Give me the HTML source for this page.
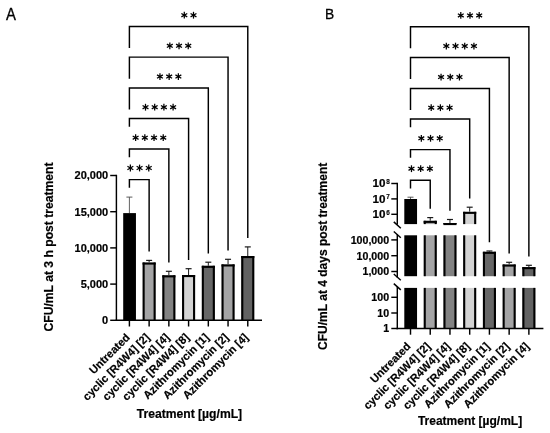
<!DOCTYPE html>
<html><head><meta charset="utf-8"><style>html,body{margin:0;padding:0;background:#fff;}svg{display:block;will-change:transform;}</style></head>
<body><svg width="550" height="433" viewBox="0 0 550 433">
<rect width="550" height="433" fill="#fff"/>
<g transform="translate(6.00,19.60) scale(0.00955,0.01)"><text text-anchor="start" font-family="Liberation Sans, sans-serif" stroke="#000" stroke-width="30" font-size="1560">A</text></g>
<line x1="129.40" y1="197.10" x2="129.40" y2="213.10" stroke="#3a3a3a" stroke-width="0.8"/><line x1="126.40" y1="197.10" x2="132.40" y2="197.10" stroke="#4a4a4a" stroke-width="0.9"/>
<rect x="123.20" y="213.10" width="12.75" height="107.20" fill="#000"/>
<line x1="149.13" y1="260.40" x2="149.13" y2="262.50" stroke="#1a1a1a" stroke-width="1.0"/><line x1="146.13" y1="260.40" x2="152.13" y2="260.40" stroke="#1a1a1a" stroke-width="1.2"/>
<rect x="142.88" y="262.50" width="12.50" height="57.80" fill="#a4a4a5"/><rect x="142.58" y="262.50" width="2.1" height="57.80" fill="#000"/><rect x="153.58" y="262.50" width="2.1" height="57.80" fill="#000"/><rect x="142.58" y="262.50" width="13.10" height="2.1" fill="#000"/>
<line x1="168.86" y1="271.30" x2="168.86" y2="275.30" stroke="#1a1a1a" stroke-width="1.0"/><line x1="165.86" y1="271.30" x2="171.86" y2="271.30" stroke="#1a1a1a" stroke-width="1.2"/>
<rect x="162.61" y="275.30" width="12.50" height="45.00" fill="#828282"/><rect x="162.31" y="275.30" width="2.1" height="45.00" fill="#000"/><rect x="173.31" y="275.30" width="2.1" height="45.00" fill="#000"/><rect x="162.31" y="275.30" width="13.10" height="2.1" fill="#000"/>
<line x1="188.59" y1="268.70" x2="188.59" y2="275.00" stroke="#1a1a1a" stroke-width="1.0"/><line x1="185.59" y1="268.70" x2="191.59" y2="268.70" stroke="#1a1a1a" stroke-width="1.2"/>
<rect x="182.34" y="275.00" width="12.50" height="45.30" fill="#d3d3d3"/><rect x="182.04" y="275.00" width="2.1" height="45.30" fill="#000"/><rect x="193.04" y="275.00" width="2.1" height="45.30" fill="#000"/><rect x="182.04" y="275.00" width="13.10" height="2.1" fill="#000"/>
<line x1="208.32" y1="262.20" x2="208.32" y2="265.80" stroke="#1a1a1a" stroke-width="1.0"/><line x1="205.32" y1="262.20" x2="211.32" y2="262.20" stroke="#1a1a1a" stroke-width="1.2"/>
<rect x="202.07" y="265.80" width="12.50" height="54.50" fill="#666666"/><rect x="201.77" y="265.80" width="2.1" height="54.50" fill="#000"/><rect x="212.77" y="265.80" width="2.1" height="54.50" fill="#000"/><rect x="201.77" y="265.80" width="13.10" height="2.1" fill="#000"/>
<line x1="228.05" y1="259.30" x2="228.05" y2="264.40" stroke="#1a1a1a" stroke-width="1.0"/><line x1="225.05" y1="259.30" x2="231.05" y2="259.30" stroke="#1a1a1a" stroke-width="1.2"/>
<rect x="221.80" y="264.40" width="12.50" height="55.90" fill="#a4a4a5"/><rect x="221.50" y="264.40" width="2.1" height="55.90" fill="#000"/><rect x="232.50" y="264.40" width="2.1" height="55.90" fill="#000"/><rect x="221.50" y="264.40" width="13.10" height="2.1" fill="#000"/>
<line x1="247.78" y1="246.90" x2="247.78" y2="256.00" stroke="#1a1a1a" stroke-width="1.0"/><line x1="244.78" y1="246.90" x2="250.78" y2="246.90" stroke="#1a1a1a" stroke-width="1.2"/>
<rect x="241.53" y="256.00" width="12.50" height="64.30" fill="#626262"/><rect x="241.23" y="256.00" width="2.1" height="64.30" fill="#000"/><rect x="252.23" y="256.00" width="2.1" height="64.30" fill="#000"/><rect x="241.23" y="256.00" width="13.10" height="2.1" fill="#000"/>
<line x1="116.40" y1="174.78" x2="116.40" y2="321.03" stroke="#000" stroke-width="1.45"/>
<line x1="115.68" y1="320.30" x2="262.00" y2="320.30" stroke="#000" stroke-width="1.45"/>
<line x1="110.20" y1="320.30" x2="116.40" y2="320.30" stroke="#000" stroke-width="1.45"/>
<g transform="translate(108.20,324.20) scale(0.01000,0.01)"><text text-anchor="end" font-family="Liberation Sans, sans-serif" font-weight="bold" stroke="#000" stroke-width="20" font-size="1100">0</text></g>
<line x1="110.20" y1="284.10" x2="116.40" y2="284.10" stroke="#000" stroke-width="1.45"/>
<g transform="translate(108.20,288.00) scale(0.01000,0.01)"><text text-anchor="end" font-family="Liberation Sans, sans-serif" font-weight="bold" stroke="#000" stroke-width="20" font-size="1100">5,000</text></g>
<line x1="110.20" y1="247.90" x2="116.40" y2="247.90" stroke="#000" stroke-width="1.45"/>
<g transform="translate(108.20,251.80) scale(0.01000,0.01)"><text text-anchor="end" font-family="Liberation Sans, sans-serif" font-weight="bold" stroke="#000" stroke-width="20" font-size="1100">10,000</text></g>
<line x1="110.20" y1="211.70" x2="116.40" y2="211.70" stroke="#000" stroke-width="1.45"/>
<g transform="translate(108.20,215.60) scale(0.01000,0.01)"><text text-anchor="end" font-family="Liberation Sans, sans-serif" font-weight="bold" stroke="#000" stroke-width="20" font-size="1100">15,000</text></g>
<line x1="110.20" y1="175.50" x2="116.40" y2="175.50" stroke="#000" stroke-width="1.45"/>
<g transform="translate(108.20,179.40) scale(0.01000,0.01)"><text text-anchor="end" font-family="Liberation Sans, sans-serif" font-weight="bold" stroke="#000" stroke-width="20" font-size="1100">20,000</text></g>
<line x1="129.40" y1="320.30" x2="129.40" y2="326.50" stroke="#000" stroke-width="1.45"/>
<g transform="translate(130.60,338.10) rotate(-45) scale(0.01000,0.01)"><text text-anchor="end" font-family="Liberation Sans, sans-serif" font-weight="bold" stroke="#000" stroke-width="20" font-size="1115">Untreated</text></g>
<line x1="149.13" y1="320.30" x2="149.13" y2="326.50" stroke="#000" stroke-width="1.45"/>
<g transform="translate(150.33,338.10) rotate(-45) scale(0.01000,0.01)"><text text-anchor="end" font-family="Liberation Sans, sans-serif" font-weight="bold" stroke="#000" stroke-width="20" font-size="1115">cyclic [R4W4] [2]</text></g>
<line x1="168.86" y1="320.30" x2="168.86" y2="326.50" stroke="#000" stroke-width="1.45"/>
<g transform="translate(170.06,338.10) rotate(-45) scale(0.01000,0.01)"><text text-anchor="end" font-family="Liberation Sans, sans-serif" font-weight="bold" stroke="#000" stroke-width="20" font-size="1115">cyclic [R4W4] [4]</text></g>
<line x1="188.59" y1="320.30" x2="188.59" y2="326.50" stroke="#000" stroke-width="1.45"/>
<g transform="translate(189.79,338.10) rotate(-45) scale(0.01000,0.01)"><text text-anchor="end" font-family="Liberation Sans, sans-serif" font-weight="bold" stroke="#000" stroke-width="20" font-size="1115">cyclic [R4W4] [8]</text></g>
<line x1="208.32" y1="320.30" x2="208.32" y2="326.50" stroke="#000" stroke-width="1.45"/>
<g transform="translate(209.52,338.10) rotate(-45) scale(0.01000,0.01)"><text text-anchor="end" font-family="Liberation Sans, sans-serif" font-weight="bold" stroke="#000" stroke-width="20" font-size="1115">Azithromycin [1]</text></g>
<line x1="228.05" y1="320.30" x2="228.05" y2="326.50" stroke="#000" stroke-width="1.45"/>
<g transform="translate(229.25,338.10) rotate(-45) scale(0.01000,0.01)"><text text-anchor="end" font-family="Liberation Sans, sans-serif" font-weight="bold" stroke="#000" stroke-width="20" font-size="1115">Azithromycin [2]</text></g>
<line x1="247.78" y1="320.30" x2="247.78" y2="326.50" stroke="#000" stroke-width="1.45"/>
<g transform="translate(248.98,338.10) rotate(-45) scale(0.01000,0.01)"><text text-anchor="end" font-family="Liberation Sans, sans-serif" font-weight="bold" stroke="#000" stroke-width="20" font-size="1115">Azithromycin [4]</text></g>
<path d="M129.40 187.80 V179.60 H149.13 V251.60" fill="none" stroke="#000" stroke-width="1.45" stroke-linejoin="miter"/>
<line x1="130.37" y1="164.60" x2="130.37" y2="171.40" stroke="#000" stroke-width="1.25"/><line x1="127.42" y1="166.30" x2="133.31" y2="169.70" stroke="#000" stroke-width="1.25"/><line x1="127.42" y1="169.70" x2="133.31" y2="166.30" stroke="#000" stroke-width="1.25"/><circle cx="130.37" cy="168.00" r="1.15" fill="#000"/><line x1="139.56" y1="164.60" x2="139.56" y2="171.40" stroke="#000" stroke-width="1.25"/><line x1="136.62" y1="166.30" x2="142.51" y2="169.70" stroke="#000" stroke-width="1.25"/><line x1="136.62" y1="169.70" x2="142.51" y2="166.30" stroke="#000" stroke-width="1.25"/><circle cx="139.56" cy="168.00" r="1.15" fill="#000"/><line x1="148.77" y1="164.60" x2="148.77" y2="171.40" stroke="#000" stroke-width="1.25"/><line x1="145.82" y1="166.30" x2="151.71" y2="169.70" stroke="#000" stroke-width="1.25"/><line x1="145.82" y1="169.70" x2="151.71" y2="166.30" stroke="#000" stroke-width="1.25"/><circle cx="148.77" cy="168.00" r="1.15" fill="#000"/>
<path d="M129.40 157.20 V149.00 H168.86 V262.50" fill="none" stroke="#000" stroke-width="1.45" stroke-linejoin="miter"/>
<line x1="135.63" y1="134.30" x2="135.63" y2="141.10" stroke="#000" stroke-width="1.25"/><line x1="132.69" y1="136.00" x2="138.57" y2="139.40" stroke="#000" stroke-width="1.25"/><line x1="132.69" y1="139.40" x2="138.57" y2="136.00" stroke="#000" stroke-width="1.25"/><circle cx="135.63" cy="137.70" r="1.15" fill="#000"/><line x1="144.83" y1="134.30" x2="144.83" y2="141.10" stroke="#000" stroke-width="1.25"/><line x1="141.89" y1="136.00" x2="147.77" y2="139.40" stroke="#000" stroke-width="1.25"/><line x1="141.89" y1="139.40" x2="147.77" y2="136.00" stroke="#000" stroke-width="1.25"/><circle cx="144.83" cy="137.70" r="1.15" fill="#000"/><line x1="154.03" y1="134.30" x2="154.03" y2="141.10" stroke="#000" stroke-width="1.25"/><line x1="151.09" y1="136.00" x2="156.97" y2="139.40" stroke="#000" stroke-width="1.25"/><line x1="151.09" y1="139.40" x2="156.97" y2="136.00" stroke="#000" stroke-width="1.25"/><circle cx="154.03" cy="137.70" r="1.15" fill="#000"/><line x1="163.23" y1="134.30" x2="163.23" y2="141.10" stroke="#000" stroke-width="1.25"/><line x1="160.29" y1="136.00" x2="166.17" y2="139.40" stroke="#000" stroke-width="1.25"/><line x1="160.29" y1="139.40" x2="166.17" y2="136.00" stroke="#000" stroke-width="1.25"/><circle cx="163.23" cy="137.70" r="1.15" fill="#000"/>
<path d="M129.40 126.70 V118.50 H188.59 V259.90" fill="none" stroke="#000" stroke-width="1.45" stroke-linejoin="miter"/>
<line x1="145.50" y1="103.80" x2="145.50" y2="110.60" stroke="#000" stroke-width="1.25"/><line x1="142.55" y1="105.50" x2="148.44" y2="108.90" stroke="#000" stroke-width="1.25"/><line x1="142.55" y1="108.90" x2="148.44" y2="105.50" stroke="#000" stroke-width="1.25"/><circle cx="145.50" cy="107.20" r="1.15" fill="#000"/><line x1="154.69" y1="103.80" x2="154.69" y2="110.60" stroke="#000" stroke-width="1.25"/><line x1="151.75" y1="105.50" x2="157.64" y2="108.90" stroke="#000" stroke-width="1.25"/><line x1="151.75" y1="108.90" x2="157.64" y2="105.50" stroke="#000" stroke-width="1.25"/><circle cx="154.69" cy="107.20" r="1.15" fill="#000"/><line x1="163.90" y1="103.80" x2="163.90" y2="110.60" stroke="#000" stroke-width="1.25"/><line x1="160.95" y1="105.50" x2="166.84" y2="108.90" stroke="#000" stroke-width="1.25"/><line x1="160.95" y1="108.90" x2="166.84" y2="105.50" stroke="#000" stroke-width="1.25"/><circle cx="163.90" cy="107.20" r="1.15" fill="#000"/><line x1="173.09" y1="103.80" x2="173.09" y2="110.60" stroke="#000" stroke-width="1.25"/><line x1="170.15" y1="105.50" x2="176.04" y2="108.90" stroke="#000" stroke-width="1.25"/><line x1="170.15" y1="108.90" x2="176.04" y2="105.50" stroke="#000" stroke-width="1.25"/><circle cx="173.09" cy="107.20" r="1.15" fill="#000"/>
<path d="M129.40 109.50 V87.90 H208.32 V253.40" fill="none" stroke="#000" stroke-width="1.45" stroke-linejoin="miter"/>
<line x1="159.96" y1="73.20" x2="159.96" y2="80.00" stroke="#000" stroke-width="1.25"/><line x1="157.02" y1="74.90" x2="162.90" y2="78.30" stroke="#000" stroke-width="1.25"/><line x1="157.02" y1="78.30" x2="162.90" y2="74.90" stroke="#000" stroke-width="1.25"/><circle cx="159.96" cy="76.60" r="1.15" fill="#000"/><line x1="169.16" y1="73.20" x2="169.16" y2="80.00" stroke="#000" stroke-width="1.25"/><line x1="166.22" y1="74.90" x2="172.10" y2="78.30" stroke="#000" stroke-width="1.25"/><line x1="166.22" y1="78.30" x2="172.10" y2="74.90" stroke="#000" stroke-width="1.25"/><circle cx="169.16" cy="76.60" r="1.15" fill="#000"/><line x1="178.36" y1="73.20" x2="178.36" y2="80.00" stroke="#000" stroke-width="1.25"/><line x1="175.42" y1="74.90" x2="181.30" y2="78.30" stroke="#000" stroke-width="1.25"/><line x1="175.42" y1="78.30" x2="181.30" y2="74.90" stroke="#000" stroke-width="1.25"/><circle cx="178.36" cy="76.60" r="1.15" fill="#000"/>
<path d="M129.40 78.70 V57.10 H228.05 V250.50" fill="none" stroke="#000" stroke-width="1.45" stroke-linejoin="miter"/>
<line x1="169.83" y1="42.40" x2="169.83" y2="49.20" stroke="#000" stroke-width="1.25"/><line x1="166.88" y1="44.10" x2="172.77" y2="47.50" stroke="#000" stroke-width="1.25"/><line x1="166.88" y1="47.50" x2="172.77" y2="44.10" stroke="#000" stroke-width="1.25"/><circle cx="169.83" cy="45.80" r="1.15" fill="#000"/><line x1="179.03" y1="42.40" x2="179.03" y2="49.20" stroke="#000" stroke-width="1.25"/><line x1="176.08" y1="44.10" x2="181.97" y2="47.50" stroke="#000" stroke-width="1.25"/><line x1="176.08" y1="47.50" x2="181.97" y2="44.10" stroke="#000" stroke-width="1.25"/><circle cx="179.03" cy="45.80" r="1.15" fill="#000"/><line x1="188.23" y1="42.40" x2="188.23" y2="49.20" stroke="#000" stroke-width="1.25"/><line x1="185.28" y1="44.10" x2="191.17" y2="47.50" stroke="#000" stroke-width="1.25"/><line x1="185.28" y1="47.50" x2="191.17" y2="44.10" stroke="#000" stroke-width="1.25"/><circle cx="188.23" cy="45.80" r="1.15" fill="#000"/>
<path d="M129.40 48.10 V26.50 H247.78 V238.10" fill="none" stroke="#000" stroke-width="1.45" stroke-linejoin="miter"/>
<line x1="184.29" y1="11.80" x2="184.29" y2="18.60" stroke="#000" stroke-width="1.25"/><line x1="181.35" y1="13.50" x2="187.23" y2="16.90" stroke="#000" stroke-width="1.25"/><line x1="181.35" y1="16.90" x2="187.23" y2="13.50" stroke="#000" stroke-width="1.25"/><circle cx="184.29" cy="15.20" r="1.15" fill="#000"/><line x1="193.49" y1="11.80" x2="193.49" y2="18.60" stroke="#000" stroke-width="1.25"/><line x1="190.55" y1="13.50" x2="196.43" y2="16.90" stroke="#000" stroke-width="1.25"/><line x1="190.55" y1="16.90" x2="196.43" y2="13.50" stroke="#000" stroke-width="1.25"/><circle cx="193.49" cy="15.20" r="1.15" fill="#000"/>
<g transform="translate(52.60,247.00) rotate(-90) scale(0.01000,0.01)"><text text-anchor="middle" font-family="Liberation Sans, sans-serif" font-weight="bold" stroke="#000" stroke-width="20" font-size="1215">CFU/mL at 3 h post treatment</text></g>
<g transform="translate(189.40,417.90) scale(0.01000,0.01)"><text text-anchor="middle" font-family="Liberation Sans, sans-serif" font-weight="bold" stroke="#000" stroke-width="20" font-size="1215">Treatment [µg/mL]</text></g>
<g transform="translate(325.10,19.40) scale(0.00900,0.01)"><text text-anchor="start" font-family="Liberation Sans, sans-serif" stroke="#000" stroke-width="30" font-size="1530">B</text></g>
<line x1="410.50" y1="197.20" x2="410.50" y2="199.00" stroke="#3a3a3a" stroke-width="0.8"/><line x1="407.50" y1="197.20" x2="413.50" y2="197.20" stroke="#4a4a4a" stroke-width="0.9"/>
<rect x="404.30" y="199.00" width="12.75" height="25.10" fill="#000"/>
<rect x="404.30" y="235.30" width="12.75" height="40.90" fill="#000"/>
<rect x="404.30" y="287.90" width="12.75" height="40.60" fill="#000"/>
<line x1="430.23" y1="217.60" x2="430.23" y2="220.80" stroke="#1a1a1a" stroke-width="1.0"/><line x1="427.23" y1="217.60" x2="433.23" y2="217.60" stroke="#1a1a1a" stroke-width="1.2"/>
<rect x="423.98" y="220.80" width="12.50" height="3.30" fill="#a4a4a5"/><rect x="423.68" y="220.80" width="2.1" height="3.30" fill="#000"/><rect x="434.68" y="220.80" width="2.1" height="3.30" fill="#000"/><rect x="423.68" y="220.80" width="13.10" height="2.1" fill="#000"/>
<rect x="423.98" y="235.30" width="12.50" height="40.90" fill="#a4a4a5"/><rect x="423.68" y="235.30" width="2.1" height="40.90" fill="#000"/><rect x="434.68" y="235.30" width="2.1" height="40.90" fill="#000"/>
<rect x="423.98" y="287.90" width="12.50" height="40.60" fill="#a4a4a5"/><rect x="423.68" y="287.90" width="2.1" height="40.60" fill="#000"/><rect x="434.68" y="287.90" width="2.1" height="40.60" fill="#000"/>
<line x1="449.96" y1="219.50" x2="449.96" y2="223.00" stroke="#1a1a1a" stroke-width="1.0"/><line x1="446.96" y1="219.50" x2="452.96" y2="219.50" stroke="#1a1a1a" stroke-width="1.2"/>
<rect x="443.71" y="223.00" width="12.50" height="1.10" fill="#828282"/><rect x="443.41" y="223.00" width="2.1" height="1.10" fill="#000"/><rect x="454.41" y="223.00" width="2.1" height="1.10" fill="#000"/><rect x="443.41" y="223.00" width="13.10" height="2.1" fill="#000"/>
<rect x="443.71" y="235.30" width="12.50" height="40.90" fill="#828282"/><rect x="443.41" y="235.30" width="2.1" height="40.90" fill="#000"/><rect x="454.41" y="235.30" width="2.1" height="40.90" fill="#000"/>
<rect x="443.71" y="287.90" width="12.50" height="40.60" fill="#828282"/><rect x="443.41" y="287.90" width="2.1" height="40.60" fill="#000"/><rect x="454.41" y="287.90" width="2.1" height="40.60" fill="#000"/>
<line x1="469.69" y1="207.20" x2="469.69" y2="211.80" stroke="#1a1a1a" stroke-width="1.0"/><line x1="466.69" y1="207.20" x2="472.69" y2="207.20" stroke="#1a1a1a" stroke-width="1.2"/>
<rect x="463.44" y="211.80" width="12.50" height="12.30" fill="#d3d3d3"/><rect x="463.14" y="211.80" width="2.1" height="12.30" fill="#000"/><rect x="474.14" y="211.80" width="2.1" height="12.30" fill="#000"/><rect x="463.14" y="211.80" width="13.10" height="2.1" fill="#000"/>
<rect x="463.44" y="235.30" width="12.50" height="40.90" fill="#d3d3d3"/><rect x="463.14" y="235.30" width="2.1" height="40.90" fill="#000"/><rect x="474.14" y="235.30" width="2.1" height="40.90" fill="#000"/>
<rect x="463.44" y="287.90" width="12.50" height="40.60" fill="#d3d3d3"/><rect x="463.14" y="287.90" width="2.1" height="40.60" fill="#000"/><rect x="474.14" y="287.90" width="2.1" height="40.60" fill="#000"/>
<line x1="489.42" y1="251.00" x2="489.42" y2="251.80" stroke="#1a1a1a" stroke-width="1.0"/><line x1="486.42" y1="251.00" x2="492.42" y2="251.00" stroke="#1a1a1a" stroke-width="1.2"/>
<rect x="483.17" y="251.80" width="12.50" height="24.40" fill="#666666"/><rect x="482.87" y="251.80" width="2.1" height="24.40" fill="#000"/><rect x="493.87" y="251.80" width="2.1" height="24.40" fill="#000"/><rect x="482.87" y="251.80" width="13.10" height="2.1" fill="#000"/>
<rect x="483.17" y="287.90" width="12.50" height="40.60" fill="#666666"/><rect x="482.87" y="287.90" width="2.1" height="40.60" fill="#000"/><rect x="493.87" y="287.90" width="2.1" height="40.60" fill="#000"/>
<line x1="509.15" y1="262.30" x2="509.15" y2="264.50" stroke="#1a1a1a" stroke-width="1.0"/><line x1="506.15" y1="262.30" x2="512.15" y2="262.30" stroke="#1a1a1a" stroke-width="1.2"/>
<rect x="502.90" y="264.50" width="12.50" height="11.70" fill="#a4a4a5"/><rect x="502.60" y="264.50" width="2.1" height="11.70" fill="#000"/><rect x="513.60" y="264.50" width="2.1" height="11.70" fill="#000"/><rect x="502.60" y="264.50" width="13.10" height="2.1" fill="#000"/>
<rect x="502.90" y="287.90" width="12.50" height="40.60" fill="#a4a4a5"/><rect x="502.60" y="287.90" width="2.1" height="40.60" fill="#000"/><rect x="513.60" y="287.90" width="2.1" height="40.60" fill="#000"/>
<line x1="528.88" y1="265.30" x2="528.88" y2="267.10" stroke="#1a1a1a" stroke-width="1.0"/><line x1="525.88" y1="265.30" x2="531.88" y2="265.30" stroke="#1a1a1a" stroke-width="1.2"/>
<rect x="522.63" y="267.10" width="12.50" height="9.10" fill="#626262"/><rect x="522.33" y="267.10" width="2.1" height="9.10" fill="#000"/><rect x="533.33" y="267.10" width="2.1" height="9.10" fill="#000"/><rect x="522.33" y="267.10" width="13.10" height="2.1" fill="#000"/>
<rect x="522.63" y="287.90" width="12.50" height="40.60" fill="#626262"/><rect x="522.33" y="287.90" width="2.1" height="40.60" fill="#000"/><rect x="533.33" y="287.90" width="2.1" height="40.60" fill="#000"/>
<line x1="397.30" y1="182.78" x2="397.30" y2="224.60" stroke="#000" stroke-width="1.45"/>
<line x1="397.30" y1="234.30" x2="397.30" y2="277.60" stroke="#000" stroke-width="1.45"/>
<line x1="397.30" y1="286.80" x2="397.30" y2="329.23" stroke="#000" stroke-width="1.45"/>
<line x1="396.57" y1="328.50" x2="543.40" y2="328.50" stroke="#000" stroke-width="1.45"/>
<line x1="393.80" y1="221.90" x2="400.80" y2="228.30" stroke="#000" stroke-width="1.45"/>
<line x1="393.80" y1="231.50" x2="400.80" y2="237.80" stroke="#000" stroke-width="1.45"/>
<line x1="393.80" y1="274.00" x2="400.80" y2="280.20" stroke="#000" stroke-width="1.45"/>
<line x1="393.80" y1="283.60" x2="400.80" y2="289.90" stroke="#000" stroke-width="1.45"/>
<line x1="391.30" y1="183.50" x2="397.30" y2="183.50" stroke="#000" stroke-width="1.45"/>
<g transform="translate(385.40,187.40) scale(0.01110,0.01)"><text text-anchor="end" font-family="Liberation Sans, sans-serif" font-weight="bold" stroke="#000" stroke-width="20" font-size="1050">10</text></g>
<g transform="translate(386.20,183.70) scale(0.01000,0.01)"><text text-anchor="start" font-family="Liberation Sans, sans-serif" font-weight="bold" stroke="#000" stroke-width="12" font-size="640">8</text></g>
<line x1="391.30" y1="198.90" x2="397.30" y2="198.90" stroke="#000" stroke-width="1.45"/>
<g transform="translate(385.40,202.80) scale(0.01110,0.01)"><text text-anchor="end" font-family="Liberation Sans, sans-serif" font-weight="bold" stroke="#000" stroke-width="20" font-size="1050">10</text></g>
<g transform="translate(386.20,199.10) scale(0.01000,0.01)"><text text-anchor="start" font-family="Liberation Sans, sans-serif" font-weight="bold" stroke="#000" stroke-width="12" font-size="640">7</text></g>
<line x1="391.30" y1="214.30" x2="397.30" y2="214.30" stroke="#000" stroke-width="1.45"/>
<g transform="translate(385.40,218.20) scale(0.01110,0.01)"><text text-anchor="end" font-family="Liberation Sans, sans-serif" font-weight="bold" stroke="#000" stroke-width="20" font-size="1050">10</text></g>
<g transform="translate(386.20,214.50) scale(0.01000,0.01)"><text text-anchor="start" font-family="Liberation Sans, sans-serif" font-weight="bold" stroke="#000" stroke-width="12" font-size="640">6</text></g>
<line x1="391.30" y1="239.90" x2="397.30" y2="239.90" stroke="#000" stroke-width="1.45"/>
<g transform="translate(389.10,243.70) scale(0.01000,0.01)"><text text-anchor="end" font-family="Liberation Sans, sans-serif" font-weight="bold" stroke="#000" stroke-width="20" font-size="1065">100,000</text></g>
<line x1="391.30" y1="255.70" x2="397.30" y2="255.70" stroke="#000" stroke-width="1.45"/>
<g transform="translate(389.10,259.50) scale(0.01000,0.01)"><text text-anchor="end" font-family="Liberation Sans, sans-serif" font-weight="bold" stroke="#000" stroke-width="20" font-size="1065">10,000</text></g>
<line x1="391.30" y1="271.50" x2="397.30" y2="271.50" stroke="#000" stroke-width="1.45"/>
<g transform="translate(389.10,275.30) scale(0.01000,0.01)"><text text-anchor="end" font-family="Liberation Sans, sans-serif" font-weight="bold" stroke="#000" stroke-width="20" font-size="1065">1,000</text></g>
<line x1="391.30" y1="297.30" x2="397.30" y2="297.30" stroke="#000" stroke-width="1.45"/>
<g transform="translate(389.10,301.10) scale(0.01000,0.01)"><text text-anchor="end" font-family="Liberation Sans, sans-serif" font-weight="bold" stroke="#000" stroke-width="20" font-size="1065">100</text></g>
<line x1="391.30" y1="313.00" x2="397.30" y2="313.00" stroke="#000" stroke-width="1.45"/>
<g transform="translate(389.10,316.80) scale(0.01000,0.01)"><text text-anchor="end" font-family="Liberation Sans, sans-serif" font-weight="bold" stroke="#000" stroke-width="20" font-size="1065">10</text></g>
<line x1="391.30" y1="328.50" x2="397.30" y2="328.50" stroke="#000" stroke-width="1.45"/>
<g transform="translate(389.10,332.30) scale(0.01000,0.01)"><text text-anchor="end" font-family="Liberation Sans, sans-serif" font-weight="bold" stroke="#000" stroke-width="20" font-size="1065">1</text></g>
<line x1="410.50" y1="328.50" x2="410.50" y2="334.70" stroke="#000" stroke-width="1.45"/>
<g transform="translate(411.40,347.00) rotate(-45) scale(0.01000,0.01)"><text text-anchor="end" font-family="Liberation Sans, sans-serif" font-weight="bold" stroke="#000" stroke-width="20" font-size="1115">Untreated</text></g>
<line x1="430.23" y1="328.50" x2="430.23" y2="334.70" stroke="#000" stroke-width="1.45"/>
<g transform="translate(431.13,347.00) rotate(-45) scale(0.01000,0.01)"><text text-anchor="end" font-family="Liberation Sans, sans-serif" font-weight="bold" stroke="#000" stroke-width="20" font-size="1115">cyclic [R4W4] [2]</text></g>
<line x1="449.96" y1="328.50" x2="449.96" y2="334.70" stroke="#000" stroke-width="1.45"/>
<g transform="translate(450.86,347.00) rotate(-45) scale(0.01000,0.01)"><text text-anchor="end" font-family="Liberation Sans, sans-serif" font-weight="bold" stroke="#000" stroke-width="20" font-size="1115">cyclic [R4W4] [4]</text></g>
<line x1="469.69" y1="328.50" x2="469.69" y2="334.70" stroke="#000" stroke-width="1.45"/>
<g transform="translate(470.59,347.00) rotate(-45) scale(0.01000,0.01)"><text text-anchor="end" font-family="Liberation Sans, sans-serif" font-weight="bold" stroke="#000" stroke-width="20" font-size="1115">cyclic [R4W4] [8]</text></g>
<line x1="489.42" y1="328.50" x2="489.42" y2="334.70" stroke="#000" stroke-width="1.45"/>
<g transform="translate(490.32,347.00) rotate(-45) scale(0.01000,0.01)"><text text-anchor="end" font-family="Liberation Sans, sans-serif" font-weight="bold" stroke="#000" stroke-width="20" font-size="1115">Azithromycin [1]</text></g>
<line x1="509.15" y1="328.50" x2="509.15" y2="334.70" stroke="#000" stroke-width="1.45"/>
<g transform="translate(510.05,347.00) rotate(-45) scale(0.01000,0.01)"><text text-anchor="end" font-family="Liberation Sans, sans-serif" font-weight="bold" stroke="#000" stroke-width="20" font-size="1115">Azithromycin [2]</text></g>
<line x1="528.88" y1="328.50" x2="528.88" y2="334.70" stroke="#000" stroke-width="1.45"/>
<g transform="translate(529.78,347.00) rotate(-45) scale(0.01000,0.01)"><text text-anchor="end" font-family="Liberation Sans, sans-serif" font-weight="bold" stroke="#000" stroke-width="20" font-size="1115">Azithromycin [4]</text></g>
<path d="M410.50 188.50 V180.30 H430.23 V208.80" fill="none" stroke="#000" stroke-width="1.45" stroke-linejoin="miter"/>
<line x1="411.47" y1="165.30" x2="411.47" y2="172.10" stroke="#000" stroke-width="1.25"/><line x1="408.52" y1="167.00" x2="414.41" y2="170.40" stroke="#000" stroke-width="1.25"/><line x1="408.52" y1="170.40" x2="414.41" y2="167.00" stroke="#000" stroke-width="1.25"/><circle cx="411.47" cy="168.70" r="1.15" fill="#000"/><line x1="420.67" y1="165.30" x2="420.67" y2="172.10" stroke="#000" stroke-width="1.25"/><line x1="417.72" y1="167.00" x2="423.61" y2="170.40" stroke="#000" stroke-width="1.25"/><line x1="417.72" y1="170.40" x2="423.61" y2="167.00" stroke="#000" stroke-width="1.25"/><circle cx="420.67" cy="168.70" r="1.15" fill="#000"/><line x1="429.87" y1="165.30" x2="429.87" y2="172.10" stroke="#000" stroke-width="1.25"/><line x1="426.92" y1="167.00" x2="432.81" y2="170.40" stroke="#000" stroke-width="1.25"/><line x1="426.92" y1="170.40" x2="432.81" y2="167.00" stroke="#000" stroke-width="1.25"/><circle cx="429.87" cy="168.70" r="1.15" fill="#000"/>
<path d="M410.50 157.80 V149.60 H449.96 V210.70" fill="none" stroke="#000" stroke-width="1.45" stroke-linejoin="miter"/>
<line x1="421.33" y1="134.90" x2="421.33" y2="141.70" stroke="#000" stroke-width="1.25"/><line x1="418.39" y1="136.60" x2="424.27" y2="140.00" stroke="#000" stroke-width="1.25"/><line x1="418.39" y1="140.00" x2="424.27" y2="136.60" stroke="#000" stroke-width="1.25"/><circle cx="421.33" cy="138.30" r="1.15" fill="#000"/><line x1="430.53" y1="134.90" x2="430.53" y2="141.70" stroke="#000" stroke-width="1.25"/><line x1="427.59" y1="136.60" x2="433.47" y2="140.00" stroke="#000" stroke-width="1.25"/><line x1="427.59" y1="140.00" x2="433.47" y2="136.60" stroke="#000" stroke-width="1.25"/><circle cx="430.53" cy="138.30" r="1.15" fill="#000"/><line x1="439.73" y1="134.90" x2="439.73" y2="141.70" stroke="#000" stroke-width="1.25"/><line x1="436.79" y1="136.60" x2="442.67" y2="140.00" stroke="#000" stroke-width="1.25"/><line x1="436.79" y1="140.00" x2="442.67" y2="136.60" stroke="#000" stroke-width="1.25"/><circle cx="439.73" cy="138.30" r="1.15" fill="#000"/>
<path d="M410.50 127.20 V119.00 H469.69 V198.40" fill="none" stroke="#000" stroke-width="1.45" stroke-linejoin="miter"/>
<line x1="431.20" y1="104.30" x2="431.20" y2="111.10" stroke="#000" stroke-width="1.25"/><line x1="428.25" y1="106.00" x2="434.14" y2="109.40" stroke="#000" stroke-width="1.25"/><line x1="428.25" y1="109.40" x2="434.14" y2="106.00" stroke="#000" stroke-width="1.25"/><circle cx="431.20" cy="107.70" r="1.15" fill="#000"/><line x1="440.40" y1="104.30" x2="440.40" y2="111.10" stroke="#000" stroke-width="1.25"/><line x1="437.45" y1="106.00" x2="443.34" y2="109.40" stroke="#000" stroke-width="1.25"/><line x1="437.45" y1="109.40" x2="443.34" y2="106.00" stroke="#000" stroke-width="1.25"/><circle cx="440.40" cy="107.70" r="1.15" fill="#000"/><line x1="449.60" y1="104.30" x2="449.60" y2="111.10" stroke="#000" stroke-width="1.25"/><line x1="446.65" y1="106.00" x2="452.54" y2="109.40" stroke="#000" stroke-width="1.25"/><line x1="446.65" y1="109.40" x2="452.54" y2="106.00" stroke="#000" stroke-width="1.25"/><circle cx="449.60" cy="107.70" r="1.15" fill="#000"/>
<path d="M410.50 110.00 V88.40 H489.42 V242.20" fill="none" stroke="#000" stroke-width="1.45" stroke-linejoin="miter"/>
<line x1="441.06" y1="73.70" x2="441.06" y2="80.50" stroke="#000" stroke-width="1.25"/><line x1="438.12" y1="75.40" x2="444.00" y2="78.80" stroke="#000" stroke-width="1.25"/><line x1="438.12" y1="78.80" x2="444.00" y2="75.40" stroke="#000" stroke-width="1.25"/><circle cx="441.06" cy="77.10" r="1.15" fill="#000"/><line x1="450.26" y1="73.70" x2="450.26" y2="80.50" stroke="#000" stroke-width="1.25"/><line x1="447.32" y1="75.40" x2="453.20" y2="78.80" stroke="#000" stroke-width="1.25"/><line x1="447.32" y1="78.80" x2="453.20" y2="75.40" stroke="#000" stroke-width="1.25"/><circle cx="450.26" cy="77.10" r="1.15" fill="#000"/><line x1="459.46" y1="73.70" x2="459.46" y2="80.50" stroke="#000" stroke-width="1.25"/><line x1="456.52" y1="75.40" x2="462.40" y2="78.80" stroke="#000" stroke-width="1.25"/><line x1="456.52" y1="78.80" x2="462.40" y2="75.40" stroke="#000" stroke-width="1.25"/><circle cx="459.46" cy="77.10" r="1.15" fill="#000"/>
<path d="M410.50 79.00 V57.40 H509.15 V253.50" fill="none" stroke="#000" stroke-width="1.45" stroke-linejoin="miter"/>
<line x1="446.32" y1="42.70" x2="446.32" y2="49.50" stroke="#000" stroke-width="1.25"/><line x1="443.38" y1="44.40" x2="449.27" y2="47.80" stroke="#000" stroke-width="1.25"/><line x1="443.38" y1="47.80" x2="449.27" y2="44.40" stroke="#000" stroke-width="1.25"/><circle cx="446.32" cy="46.10" r="1.15" fill="#000"/><line x1="455.52" y1="42.70" x2="455.52" y2="49.50" stroke="#000" stroke-width="1.25"/><line x1="452.58" y1="44.40" x2="458.47" y2="47.80" stroke="#000" stroke-width="1.25"/><line x1="452.58" y1="47.80" x2="458.47" y2="44.40" stroke="#000" stroke-width="1.25"/><circle cx="455.52" cy="46.10" r="1.15" fill="#000"/><line x1="464.72" y1="42.70" x2="464.72" y2="49.50" stroke="#000" stroke-width="1.25"/><line x1="461.78" y1="44.40" x2="467.67" y2="47.80" stroke="#000" stroke-width="1.25"/><line x1="461.78" y1="47.80" x2="467.67" y2="44.40" stroke="#000" stroke-width="1.25"/><circle cx="464.72" cy="46.10" r="1.15" fill="#000"/><line x1="473.93" y1="42.70" x2="473.93" y2="49.50" stroke="#000" stroke-width="1.25"/><line x1="470.98" y1="44.40" x2="476.87" y2="47.80" stroke="#000" stroke-width="1.25"/><line x1="470.98" y1="47.80" x2="476.87" y2="44.40" stroke="#000" stroke-width="1.25"/><circle cx="473.93" cy="46.10" r="1.15" fill="#000"/>
<path d="M410.50 48.30 V26.70 H528.88 V256.50" fill="none" stroke="#000" stroke-width="1.45" stroke-linejoin="miter"/>
<line x1="460.79" y1="12.00" x2="460.79" y2="18.80" stroke="#000" stroke-width="1.25"/><line x1="457.85" y1="13.70" x2="463.73" y2="17.10" stroke="#000" stroke-width="1.25"/><line x1="457.85" y1="17.10" x2="463.73" y2="13.70" stroke="#000" stroke-width="1.25"/><circle cx="460.79" cy="15.40" r="1.15" fill="#000"/><line x1="469.99" y1="12.00" x2="469.99" y2="18.80" stroke="#000" stroke-width="1.25"/><line x1="467.05" y1="13.70" x2="472.93" y2="17.10" stroke="#000" stroke-width="1.25"/><line x1="467.05" y1="17.10" x2="472.93" y2="13.70" stroke="#000" stroke-width="1.25"/><circle cx="469.99" cy="15.40" r="1.15" fill="#000"/><line x1="479.19" y1="12.00" x2="479.19" y2="18.80" stroke="#000" stroke-width="1.25"/><line x1="476.25" y1="13.70" x2="482.13" y2="17.10" stroke="#000" stroke-width="1.25"/><line x1="476.25" y1="17.10" x2="482.13" y2="13.70" stroke="#000" stroke-width="1.25"/><circle cx="479.19" cy="15.40" r="1.15" fill="#000"/>
<g transform="translate(327.00,256.30) rotate(-90) scale(0.01000,0.01)"><text text-anchor="middle" font-family="Liberation Sans, sans-serif" font-weight="bold" stroke="#000" stroke-width="20" font-size="1200">CFU/mL at 4 days post treatment</text></g>
<g transform="translate(470.00,425.20) scale(0.01000,0.01)"><text text-anchor="middle" font-family="Liberation Sans, sans-serif" font-weight="bold" stroke="#000" stroke-width="20" font-size="1200">Treatment [µg/mL]</text></g>
</svg></body></html>
